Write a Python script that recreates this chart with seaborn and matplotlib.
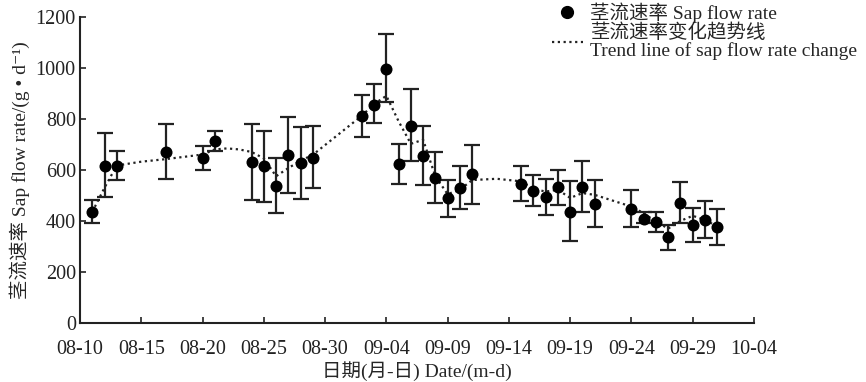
import matplotlib
matplotlib.use("Agg")
import matplotlib.pyplot as plt
import matplotlib.dates as mdates
from matplotlib.lines import Line2D
import numpy as np
import pandas as pd
import seaborn as sns

# sap flow rate observations (g/d) with error bar bounds
obs_dates = ["08-11", "08-12", "08-13", "08-17", "08-20", "08-21", "08-24", "08-25",
             "08-26", "08-27", "08-28", "08-29", "09-02", "09-03", "09-04", "09-05",
             "09-06", "09-07", "09-08", "09-09", "09-10", "09-11", "09-15", "09-16",
             "09-17", "09-18", "09-19", "09-20", "09-21", "09-24", "09-25", "09-26",
             "09-27", "09-28", "09-29", "09-30", "10-01"]
sap_flow = [435, 617, 617, 671, 648, 712, 630, 614, 535, 659, 627, 648, 811, 856, 996, 622,
            773, 655, 570, 488, 527, 583, 545, 518, 493, 532, 435, 532, 467, 448, 409, 396,
            335, 472, 382, 403, 376]
err_top = [482, 744, 672, 778, 695, 754, 778, 754, 646, 809, 767, 773, 894, 935, 1131, 703,
           915, 770, 669, 561, 614, 699, 614, 580, 565, 601, 556, 635, 560, 522, 434, 435,
           384, 552, 451, 478, 448]
err_bottom = [391, 494, 561, 565, 601, 672, 482, 474, 429, 511, 487, 527, 728, 783, 865, 544,
              633, 540, 469, 417, 446, 468, 477, 459, 424, 464, 322, 433, 375, 378, 391, 357,
              285, 393, 319, 333, 305]

# trend line
trend_dates = ["08-11", "08-12", "08-13", "08-15", "08-17", "08-20", "08-21", "08-22", "08-23",
               "08-24", "08-25", "08-26", "08-27", "08-28", "08-29", "09-02", "09-03", "09-04",
               "09-05", "09-06", "09-07", "09-08", "09-09", "09-10", "09-11", "09-13", "09-15",
               "09-16", "09-17", "09-18", "09-19", "09-20", "09-21", "09-24", "09-25", "09-26",
               "09-27", "09-28", "09-29", "09-30", "10-01"]
trend = [435, 530, 617, 632, 642, 660, 680, 684, 680, 670, 645, 575, 607, 636, 659, 812, 858,
         890, 790, 702, 718, 574, 505, 522, 560, 565, 555, 525, 515, 522, 490, 509, 502, 456,
         430, 397, 370, 400, 420, 404, 378]

year = "2019-"
df = pd.DataFrame({"date": pd.to_datetime([year + d for d in obs_dates]),
                   "sap_flow": sap_flow, "top": err_top, "bottom": err_bottom})
trend_df = pd.DataFrame({"date": pd.to_datetime([year + d for d in trend_dates]), "trend": trend})

sns.set_style("ticks")
plt.rcParams["font.family"] = ["Liberation Serif", "Noto Sans CJK SC", "DejaVu Serif"]

fig = plt.figure(figsize=(8.66, 3.82), dpi=100)
ax = fig.add_axes([80 / 866, 1 - 323 / 382, 674 / 866, 306.3 / 382])

sns.lineplot(data=trend_df, x="date", y="trend", ax=ax, color="#222222",
             linestyle=(0, (1, 1.6)), linewidth=1.6)
ax.errorbar(df["date"], df["sap_flow"],
            yerr=[df["sap_flow"] - df["bottom"], df["top"] - df["sap_flow"]],
            fmt="none", ecolor="#222222", elinewidth=1.6, capsize=6, capthick=1.6)
sns.scatterplot(data=df, x="date", y="sap_flow", ax=ax, color="black", s=75,
                edgecolor="black", linewidth=0, zorder=5)

ticks = pd.date_range(year + "08-10", year + "10-04", freq="5D")
ax.set_xlim(ticks[0], ticks[-1])
ax.set_xticks(ticks)
ax.xaxis.set_major_formatter(mdates.DateFormatter("%m-%d"))
ax.set_ylim(0, 1200)
ax.set_yticks(np.arange(0, 1201, 200))
ax.tick_params(direction="in", length=4, width=1.2, labelsize=14.5, colors="#222222")
ax.tick_params(axis="x", pad=12)
ax.tick_params(axis="y", pad=3)
for s in ["left", "bottom"]:
    ax.spines[s].set_linewidth(1.5)
    ax.spines[s].set_color("#222222")
sns.despine(ax=ax)

ax.set_xlabel("日期(月-日) Date/(m-d)", fontsize=14, labelpad=2)
ax.set_ylabel("茎流速率 Sap flow rate/(g • d⁻¹)", fontsize=14, labelpad=4)

handles = [Line2D([], [], marker="o", color="black", linestyle="none", markersize=8.5),
           Line2D([], [], color="#222222", linestyle=(0, (1, 1.6)), linewidth=1.6)]
labels = ["茎流速率 Sap flow rate", "茎流速率变化趋势线\nTrend line of sap flow rate change"]
leg = fig.legend(handles, labels, loc="upper left", bbox_to_anchor=(538 / 866, 1.03),
                 frameon=False, fontsize=14, handlelength=1.6, handletextpad=0.4,
                 labelspacing=0.05, borderpad=0.2)
for t in leg.get_texts():
    t.set_linespacing(1.0)

plt.savefig("out.png", dpi=100)
